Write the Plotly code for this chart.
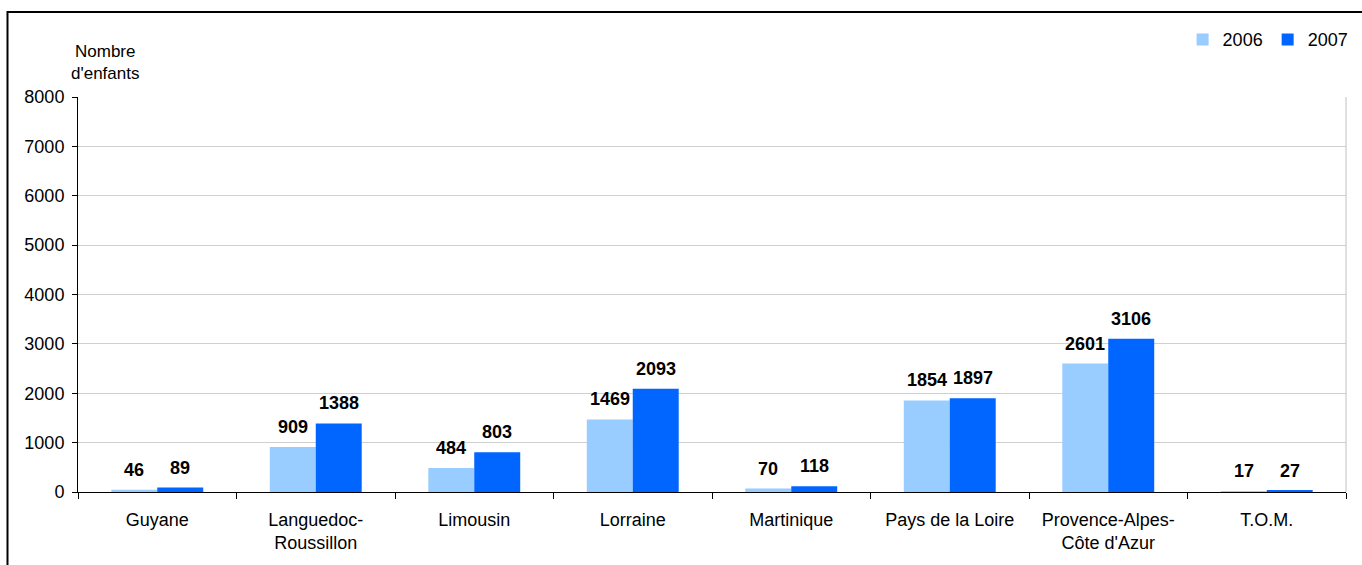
import plotly.graph_objects as go

categories = ["Guyane", "Languedoc-<br>Roussillon", "Limousin", "Lorraine", "Martinique",
              "Pays de la Loire", "Provence-Alpes-<br>Côte d'Azur", "T.O.M."]
v2006 = [46, 909, 484, 1469, 70, 1854, 2601, 17]
v2007 = [89, 1388, 803, 2093, 118, 1897, 3106, 27]
yticks = [0, 1000, 2000, 3000, 4000, 5000, 6000, 7000, 8000]

FONT = "Liberation Sans, Arial, sans-serif"
BARGAP = 0.42
half = (1 - BARGAP) / 4  # offset of each bar centre from category centre

fig = go.Figure()
fig.add_trace(go.Bar(name="2006", x=categories, y=v2006, marker_color="#99CCFF",
                     marker_line_width=0))
fig.add_trace(go.Bar(name="2007", x=categories, y=v2007, marker_color="#0066FF",
                     marker_line_width=0))

annotations = []
for i, (a, b) in enumerate(zip(v2006, v2007)):
    for val, off in ((a, -half), (b, half)):
        annotations.append(dict(x=i + off, y=val, xref="x", yref="y", text=f"<b>{val}</b>",
                                showarrow=False, yanchor="bottom", xanchor="center",
                                yshift=8, font=dict(family=FONT, size=18, color="black")))

annotations.append(dict(text="Nombre<br>d'enfants", xref="paper", yref="paper",
                        x=0.021, y=1.03, xanchor="center", yanchor="bottom",
                        showarrow=False, font=dict(family=FONT, size=17), align="center"))

fig.update_layout(
    width=1362, height=565,
    margin=dict(l=78, r=16, t=97, b=73, autoexpand=False),
    paper_bgcolor="white", plot_bgcolor="white",
    barmode="group", bargap=BARGAP, bargroupgap=0,
    font=dict(family=FONT, size=17, color="black"),
    showlegend=True,
    legend=dict(orientation="h", x=1.006, xanchor="right", y=1.145, yanchor="middle",
                font=dict(family=FONT, size=18), itemwidth=30, tracegroupgap=0,
                bgcolor="rgba(0,0,0,0)"),
    xaxis=dict(showline=True, linecolor="black", linewidth=1, ticks="outside",
               tickson="boundaries", ticklen=6, tickcolor="black",
               tickfont=dict(family=FONT, size=18), showgrid=False,
               ticklabelstandoff=11, range=[-0.5, 7.5]),
    yaxis=dict(range=[0, 8000], tickvals=yticks, showline=True, linecolor="black",
               linewidth=1, ticks="outside", ticklen=5, tickcolor="black",
               gridcolor="#D0D0D0", gridwidth=1, zeroline=False,
               tickfont=dict(family=FONT, size=18), ticklabelstandoff=4),
    annotations=annotations,
    shapes=[
        dict(type="line", xref="paper", yref="paper", x0=1, x1=1, y0=0, y1=1,
             line=dict(color="#C0C0C0", width=1)),
        dict(type="rect", xref="paper", yref="paper", x0=-0.0556, x1=1.05, y0=-0.5, y1=1.215,
             line=dict(color="black", width=2), fillcolor="rgba(0,0,0,0)", layer="below"),
    ],
)

fig.write_html("out.html", config={"displayModeBar": False},
               post_script="document.body.style.margin='0';")
